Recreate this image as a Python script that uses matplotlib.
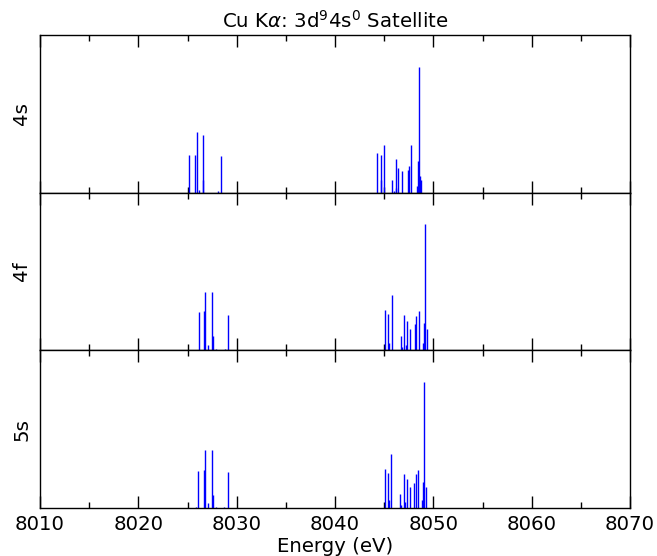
import matplotlib
matplotlib.use("Agg")
import matplotlib.pyplot as plt
from matplotlib.ticker import MultipleLocator

# Data (normalized line intensities)
energies_4s = [8025.15, 8025.80, 8025.95, 8026.20, 8026.55, 8026.62, 8028.10, 8028.37,
               8044.30, 8044.64, 8044.72, 8044.94, 8045.83, 8045.95, 8046.17, 8046.25,
               8046.44, 8046.78, 8047.39, 8047.48, 8047.69, 8048.37, 8048.44, 8048.54,
               8048.68, 8048.78]
intens_4s = [0.30, 0.30, 0.48, 0.02, 0.46, 0.10, 0.01, 0.29,
             0.315, 0.30, 0.10, 0.376, 0.10, 0.016, 0.27, 0.04,
             0.195, 0.168, 0.18, 0.21, 0.376, 0.05, 0.248, 1.0,
             0.136, 0.10]

energies_4f = [8026.14, 8026.71, 8026.81, 8027.08, 8027.49, 8027.59, 8027.90, 8028.78, 8029.08,
               8045.05, 8045.39, 8045.45, 8045.76, 8046.68, 8046.78, 8047.05, 8047.18,
               8047.28, 8047.63, 8048.10, 8048.24, 8048.51, 8048.92, 8049.02, 8049.12, 8049.32]
intens_4f = [0.30, 0.31, 0.466, 0.04, 0.466, 0.11, 0.01, 0.012, 0.28,
             0.317, 0.29, 0.06, 0.437, 0.115, 0.025, 0.277, 0.045,
             0.232, 0.173, 0.205, 0.27, 0.31, 0.06, 0.22, 1.0, 0.17]

energies_5s = [8025.83, 8026.10, 8026.71, 8026.78, 8027.08, 8027.52, 8027.59, 8027.90, 8028.74, 8029.08,
               8045.05, 8045.39, 8045.45, 8045.73, 8046.64, 8046.74, 8047.02, 8047.14,
               8047.28, 8047.60, 8048.06, 8048.20, 8048.47, 8048.88, 8048.98, 8049.08, 8049.29]
intens_5s = [0.01, 0.297, 0.30, 0.46, 0.037, 0.46, 0.104, 0.01, 0.01, 0.285,
             0.308, 0.28, 0.06, 0.43, 0.11, 0.025, 0.27, 0.045,
             0.227, 0.17, 0.197, 0.27, 0.305, 0.06, 0.21, 1.0, 0.167]

panel_labels = ["4s", "4f", "5s"]
panels = [(energies_4s, intens_4s), (energies_4f, intens_4f), (energies_5s, intens_5s)]

FS = 14.2
fig = plt.figure(figsize=(6.57, 5.56), dpi=100)
left, right = 40 / 657, 630 / 657
top, bottom = 1 - 35 / 556, 1 - 508 / 556
h = (top - bottom) / 3

axes = []
for i, ((en, it), lab) in enumerate(zip(panels, panel_labels)):
    ax = fig.add_axes([left, top - (i + 1) * h, right - left, h])
    ax.vlines(en, 0, it, colors="blue", linewidth=1.0)
    ax.set_xlim(8010, 8070)
    ax.set_ylim(0, 1.25)
    ax.set_yticks([])
    ax.xaxis.set_major_locator(MultipleLocator(10))
    ax.xaxis.set_minor_locator(MultipleLocator(5))
    ax.tick_params(axis="x", which="both", direction="in", top=True, bottom=True,
                   labelsize=FS, pad=5)
    ax.tick_params(axis="x", which="major", length=8.6, width=1)
    ax.tick_params(axis="x", which="minor", length=4.3, width=1)
    for s in ax.spines.values():
        s.set_linewidth(1.0)
    ax.set_ylabel(lab, fontsize=FS)
    ax.yaxis.set_label_coords(-0.015, 0.5)
    if i < 2:
        ax.tick_params(axis="x", labelbottom=False)
    axes.append(ax)

axes[0].set_title(r"Cu K$\alpha$: 3d$^9$4s$^0$ Satellite", fontsize=FS, pad=5)
axes[-1].set_xlabel("Energy (eV)", fontsize=FS, labelpad=2)

fig.savefig("out.png", dpi=100)
